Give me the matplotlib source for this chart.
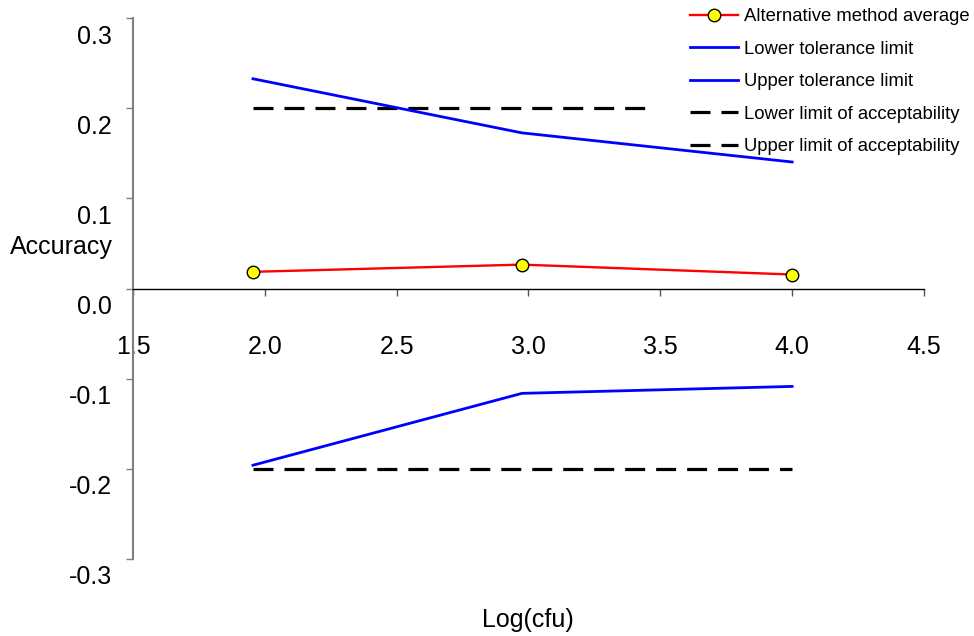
import matplotlib
matplotlib.use('Agg')
import matplotlib.pyplot as plt
import matplotlib.transforms as mtransforms

plt.rcParams['font.family'] = ['Liberation Sans', 'DejaVu Sans']
plt.rcParams['lines.scale_dashes'] = False

# ---- data ----
x_levels = [1.955, 2.975, 4.0]
alt_avg = [0.0185, 0.0265, 0.0155]
lower_tol = [-0.196, -0.1163, -0.1086]
upper_tol = [0.2326, 0.1726, 0.1403]
lower_acc = [-0.2, -0.2, -0.2]
upper_acc = [0.2, 0.2, 0.2]

x_ticks = [1.5, 2.0, 2.5, 3.0, 3.5, 4.0, 4.5]
x_ticklabels = ['1.5', '2.0', '2.5', '3.0', '3.5', '4.0', '4.5']
y_ticks = [-0.3, -0.2, -0.1, 0.0, 0.1, 0.2, 0.3]
y_ticklabels = ['-0.3', '-0.2', '-0.1', '0.0', '0.1', '0.2', '0.3']

labels = ['Alternative method average', 'Lower tolerance limit',
          'Upper tolerance limit', 'Lower limit of acceptability',
          'Upper limit of acceptability']

W, H = 974, 636
fig = plt.figure(figsize=(W / 100, H / 100), dpi=100)
ax = fig.add_axes([133 / W, 1 - 559 / H, (924 - 133) / W, (559 - 18) / H])
ax.set_xlim(1.5, 4.5)
ax.set_ylim(-0.3, 0.3)

# lines
l_avg, = ax.plot(x_levels, alt_avg, color='#FF0000', lw=1.7, marker='o',
                 markersize=9, markerfacecolor='#FFFF00',
                 markeredgecolor='black', markeredgewidth=1, zorder=4,
                 label=labels[0])
l_lt, = ax.plot(x_levels, lower_tol, color='#0000FF', lw=2, zorder=3,
                label=labels[1])
l_ut, = ax.plot(x_levels, upper_tol, color='#0000FF', lw=2, zorder=3,
                label=labels[2])
l_la, = ax.plot(x_levels, lower_acc, color='black', lw=2.3,
                dashes=(14.4, 7.9), zorder=2, label=labels[3])
l_ua, = ax.plot(x_levels, upper_acc, color='black', lw=2.3,
                dashes=(14.4, 7.9), zorder=2, label=labels[4])

# spines
for s in ['top', 'right']:
    ax.spines[s].set_visible(False)
ax.spines['bottom'].set_position(('data', 0))
ax.spines['bottom'].set_color('black')
ax.spines['bottom'].set_linewidth(1.0)
ax.spines['left'].set_color('#7f7f7f')
ax.spines['left'].set_linewidth(1.5)

ax.set_xticks(x_ticks)
ax.set_xticklabels(x_ticklabels)
ax.set_yticks(y_ticks)
ax.set_yticklabels(y_ticklabels)
ax.tick_params(axis='x', direction='out', length=5, width=1, color='#555555',
               labelsize=18, pad=28.5)
ax.tick_params(axis='y', direction='out', length=5, width=1, color='#7f7f7f',
               labelsize=18, pad=10)

offset = mtransforms.ScaledTranslation(0, -16 / 100, fig.dpi_scale_trans)
for lab in ax.get_yticklabels():
    lab.set_transform(lab.get_transform() + offset)

# axis titles
fig.text(10 / W, 1 - 247 / H, 'Accuracy', ha='left', va='center', fontsize=18)
fig.text(528 / W, 1 - 620 / H, 'Log(cfu)', ha='center', va='center', fontsize=18)

# legend
leg = ax.legend(handles=[l_avg, l_lt, l_ut, l_la, l_ua], loc='upper left',
                bbox_to_anchor=(655 / W, 1 + 27 / H), bbox_transform=fig.transFigure,
                borderaxespad=0, borderpad=1.9, fontsize=13.3, handlelength=2.6,
                handletextpad=0.33, labelspacing=0.84, frameon=True,
                framealpha=1, fancybox=False)
leg.get_frame().set_edgecolor('none')
leg.get_frame().set_facecolor('white')
leg.set_zorder(2.5)

fig.savefig('out.png', dpi=100)
